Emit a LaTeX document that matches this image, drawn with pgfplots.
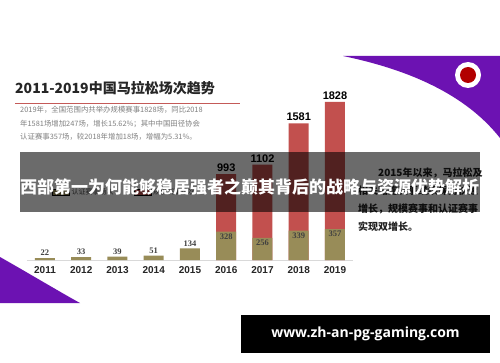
\documentclass[border=0pt]{standalone}
\usepackage{pgfplots}
\pgfplotsset{compat=1.18}
\usepackage{fontspec}
\setmainfont{Liberation Sans}
\newfontfamily\cjk{Noto Sans CJK SC}
\newfontfamily\sernum{Liberation Serif}
\newfontfamily\urlfont{Open Sans}
\definecolor{barred}{RGB}{194,80,78}
\definecolor{barolive}{RGB}{152,140,88}
\definecolor{purp}{RGB}{108,18,178}
\definecolor{titlered}{RGB}{196,90,88}
\begin{document}
\begin{tikzpicture}[x=1pt,y=1pt]
\path[use as bounding box] (0,0) rectangle (500,362);
\fill[white] (0,0) rectangle (500,362);
% purple shapes
\fill[purp] (343,306) -- (500,306) -- (500,224) .. controls (470,262) and (420,290) .. (343,306) -- cycle;
\fill[white] (468,287) circle (13);
\fill[red!70!black] (468,287) circle (8);
\fill[purp] (0,105) .. controls (30,88) and (60,70) .. (80,59) -- (0,59) -- cycle;
% title
\node[anchor=west,inner sep=0pt,text=black!85,font={\cjk\bfseries\fontsize{14}{14}\selectfont}] at (15,274) {2011-2019中国马拉松场次趋势};
\draw[titlered,line width=1.5pt] (15,258.7) -- (240,258.7);
\node[anchor=north west,inner sep=0pt,align=left,text=black!50,font={\cjk\fontsize{7.4}{13.5}\selectfont}] at (20,255.5) {2019年，全国范围内共举办规模赛事1828场，同比2018\\年1581场增加247场，增长15.62\%；其中中国田径协会\\认证赛事357场，较2018年增加18场，增幅为5.31\%。};
% right text
\node[anchor=north west,inner sep=0pt,align=left,text=black!88,font={\cjk\bfseries\fontsize{10}{18}\selectfont}] at (358,194) {\hspace*{2em}2015年以来，马拉松及\\相关路跑赛事继续保持快速\\增长，规模赛事和认证赛事\\实现双增长。};
\begin{axis}[at={(26.875pt,102pt)},anchor=south west,scale only axis,
  width=326.25pt,height=160pt,xmin=-0.5,xmax=8.5,ymin=0,ymax=1850,
  axis x line=bottom,axis y line=none,x axis line style={draw=black!15,line width=0.8pt,-},
  xtick={0,...,8},xticklabels={2011,2012,2013,2014,2015,2016,2017,2018,2019},
  xtick style={draw=none},
  xticklabel style={font=\bfseries\fontsize{10}{10}\selectfont,text=black!85,yshift=-1pt},
  /pgf/number format/assume math mode=true,
  /pgf/number format/1000 sep={},
  legend style={at={(0.30,0.425)},anchor=center,draw=none,fill=none,
    font={\cjk\fontsize{7}{7}\selectfont},text=black!70,legend columns=2,
    /tikz/every even column/.append style={column sep=18pt}},
  reverse legend,
  clip=false]
\addplot[ybar,bar width=20pt,bar shift=0pt,fill=barred,draw=none,area legend,
  nodes near coords,nodes near coords style={font=\bfseries\fontsize{11}{11}\selectfont,text=black,anchor=south,inner sep=2pt}]
  coordinates {(5,993) (6,1102) (7,1581) (8,1828)};
\addlegendentry{规模赛事场次}
\addplot[ybar,bar width=20pt,bar shift=0pt,fill=barolive,draw=none,area legend,
  nodes near coords,nodes near coords style={font=\sernum\bfseries\fontsize{8.5}{8.5}\selectfont,text=black!75,anchor=south,inner sep=2pt}]
  coordinates {(0,22) (1,33) (2,39) (3,51) (4,134)};
\addlegendentry{认证赛事场次}
\addplot[ybar,bar width=20pt,bar shift=0pt,fill=barolive,draw=none,forget plot,
  nodes near coords,nodes near coords style={font=\sernum\bfseries\fontsize{8.5}{8.5}\selectfont,text=black!75,anchor=north,inner sep=2pt}]
  coordinates {(5,328) (6,256) (7,339) (8,357)};
\end{axis}
% overlay band
\fill[black,opacity=0.58] (20,150) rectangle (480,210);
\node[anchor=west,inner sep=0pt,text=white,font={\cjk\bfseries\fontsize{17}{17}\selectfont}] at (20,175) {西部第一为何能够稳居强者之巅其背后的战略与资源优势解析};
% bottom black box
\fill[black] (241,9) rectangle (490,47);
\node[text=white,inner sep=0pt,font={\urlfont\bfseries\fontsize{14}{14}\selectfont}] at (365.5,28) {www.zh-an-pg-gaming.com};
\end{tikzpicture}
\end{document}
